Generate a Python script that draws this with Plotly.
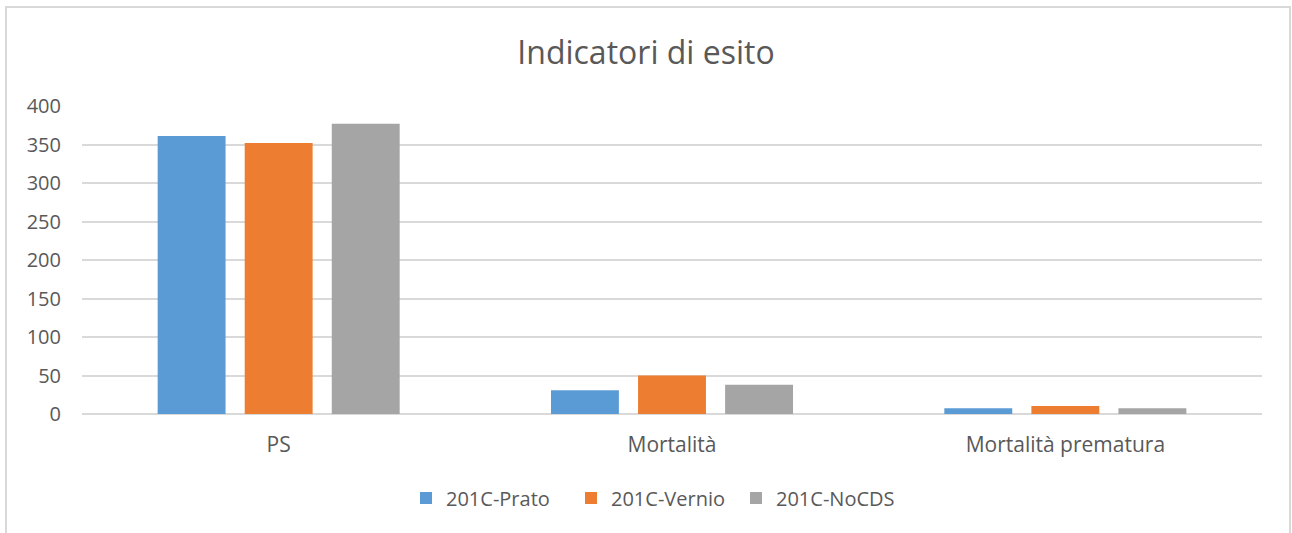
import plotly.graph_objects as go

categories = ["PS", "Mortalità", "Mortalità prematura"]
series_names = ["201C-Prato", "201C-Vernio", "201C-NoCDS"]
prato = [361, 31, 7.4]
vernio = [352, 50, 10.4]
nocds = [377, 38, 7.4]
colors = ["#5B9BD5", "#ED7D31", "#A5A5A5"]
y_ticks = [0, 50, 100, 150, 200, 250, 300, 350, 400]

fig = go.Figure()
for name, vals, col in zip(series_names, [prato, vernio, nocds], colors):
    fig.add_trace(go.Bar(x=categories, y=vals, name=name, marker=dict(color=col, line=dict(width=0))))

W, H = 1292, 533
ml, mr, mt, mb = 82, 30, 106, 119
pw = W - ml - mr
ph = H - mt - mb

def px_x(p):
    return (p - ml) / pw

def px_y(p):
    return (H - mb - p) / ph

fig.update_layout(
    width=W, height=H,
    margin=dict(l=ml, r=mr, t=mt, b=mb),
    paper_bgcolor="white", plot_bgcolor="white",
    barmode="group", bargap=0.336, bargroupgap=0.22,
    font=dict(family="Open Sans", color="#595959", size=20),
    title=dict(text="Indicatori di esito", x=0.5, xanchor="center", y=1 - 53 / H, yanchor="middle",
               font=dict(size=32, color="#595959")),
    legend=dict(orientation="h", x=px_x(406), xanchor="left", y=px_y(498), yanchor="middle",
                font=dict(size=20, color="#595959"), itemwidth=30, traceorder="normal",
                entrywidth=120, entrywidthmode="pixels"),
    showlegend=True,
    xaxis=dict(showline=False, showgrid=False, ticks="", tickfont=dict(size=21, color="#595959"),
               ticklabelstandoff=16),
    yaxis=dict(range=[0, 400], tickvals=y_ticks, showgrid=True, gridcolor="#D9D9D9", gridwidth=1.5,
               zeroline=True, zerolinecolor="#D9D9D9", zerolinewidth=1.5, showline=False,
               tickfont=dict(size=20, color="#595959"), ticks="", ticklabelstandoff=20),
)

fig.add_shape(type="path", xref="paper", yref="paper",
              path=f"M {px_x(6)} {px_y(540)} L {px_x(6)} {px_y(7)} L {px_x(1290)} {px_y(7)} L {px_x(1290)} {px_y(540)}",
              line=dict(color="#D9D9D9", width=2), layer="below")

fig.write_html("out.html", config={"displayModeBar": False},
               post_script="document.body.style.margin='0';document.body.style.overflow='hidden';")
